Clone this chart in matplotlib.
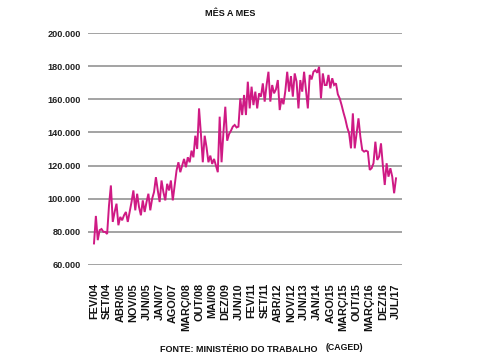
import matplotlib
matplotlib.use("Agg")
import matplotlib.pyplot as plt
from matplotlib import font_manager

# ---- data (thousands of jobs, monthly, Feb/2004 .. Jul/2017) ----
values_k = [
    73, 89.6, 75, 81, 81.7, 80, 80, 78.7, 96, 108,
    86, 92, 97, 84, 89, 87, 90, 92, 86, 92,
    98, 105, 93, 103, 95, 90, 99, 92, 98, 103,
    93, 100, 104, 113, 105, 98, 111, 104, 99, 109,
    105, 111, 99, 108, 117, 122, 116, 120, 124, 119,
    125, 122, 129, 125, 138, 130, 154.5, 139, 122, 138,
    131, 122, 126, 121, 124, 120, 116, 149.5, 122, 140,
    155.5, 135, 139, 141, 143.5, 144.5, 143, 143.5, 160.5, 150.5,
    162.6, 150.5, 170.6, 154.5, 167.6, 156.5, 164.6, 154.5, 163.6, 161.6,
    169.6, 158.6, 168.6, 176.6, 158.6, 168.6, 163.6, 166, 171.6, 153.5,
    160.5, 157, 165, 176.6, 164.6, 174, 161.6, 175.6, 170.6, 154.5,
    171.6, 164.6, 176.6, 165.6, 154.5, 174.7, 172, 176.6, 177.6, 176,
    179.6, 160.5, 175.6, 168.6, 168.6, 174.7, 166.6, 172.7, 168.6, 169.6,
    163, 160.5, 156.5, 152, 148, 143, 139.5, 130.4, 151.5, 130.4,
    139.5, 148.5, 137.4, 129.4, 128.4, 129, 128.4, 117.4, 118.4, 121.4,
    134.4, 123.4, 125.4, 133.4, 120, 108.3, 121.4, 113.3, 118.4, 113.3,
    103.3, 112.3,
]
values = [v * 1000 for v in values_k]
months = list(range(len(values)))

tick_labels = ["FEV/04", "SET/04", "ABR/05", "NOV/05", "JUN/05", "JAN/07",
               "AGO/07", "MARÇ/08", "OUT/08", "MAI/09", "DEZ/09", "JUN/10",
               "FEV/11", "SET/11", "ABR/12", "NOV/12", "JUN/13", "JAN/14",
               "AGO/15", "MARÇ/15", "OUT/15", "MARÇ/16", "DEZ/16", "JUL/17"]
tick_step = 7
y_ticks = [60000, 80000, 100000, 120000, 140000, 160000, 180000, 200000]

title = "MÊS A MES"
source = "FONTE: MINISTÉRIO DO TRABALHO"
source2 = "(CAGED)"

# ---- fonts ----
available = {f.name for f in font_manager.fontManager.ttflist}
fam = ["Liberation Sans Narrow", "Liberation Sans", "DejaVu Sans"]
fam = [f for f in fam if f in available] or ["DejaVu Sans"]
plt.rcParams["font.family"] = fam

fig = plt.figure(figsize=(4.8, 3.58), dpi=100)
ax = fig.add_axes([88/480, 1-265/358, (402-88)/480, (265-33)/358])

ax.plot(months, values, color="#cf1a84", lw=1.4, solid_joinstyle="miter")

ax.set_ylim(60000, 200000)
ax.set_xlim(-3.2, 164.2)
ax.set_yticks(y_ticks)
ax.set_yticklabels([f"{v:,}".replace(",", ".") for v in y_ticks],
                   fontsize=6.6, fontweight="bold", color="#222222")
ax.set_xticks([i * tick_step for i in range(len(tick_labels))])
ax.set_xticklabels(tick_labels, rotation=90, fontsize=7.8, fontweight="bold",
                   color="#111111")
ax.tick_params(axis="x", length=0, pad=13)
ax.tick_params(axis="y", length=0, pad=5)
ax.grid(axis="y", color="#8a8a8a", lw=1.1)
ax.set_axisbelow(True)
for s in ax.spines.values():
    s.set_visible(False)

fig.text(230/480, 1-13/358, title, ha="center", va="center",
         fontsize=6.6, fontweight="bold", color="#111111")
fig.text(160/480, 1-349/358, source, ha="left", va="center",
         fontsize=6.5, fontweight="bold", color="#111111")
fig.text(326/480, 1-347/358, source2, ha="left", va="center",
         fontsize=6.3, fontweight="bold", color="#111111")

fig.savefig("out.png", dpi=100, facecolor="white")
